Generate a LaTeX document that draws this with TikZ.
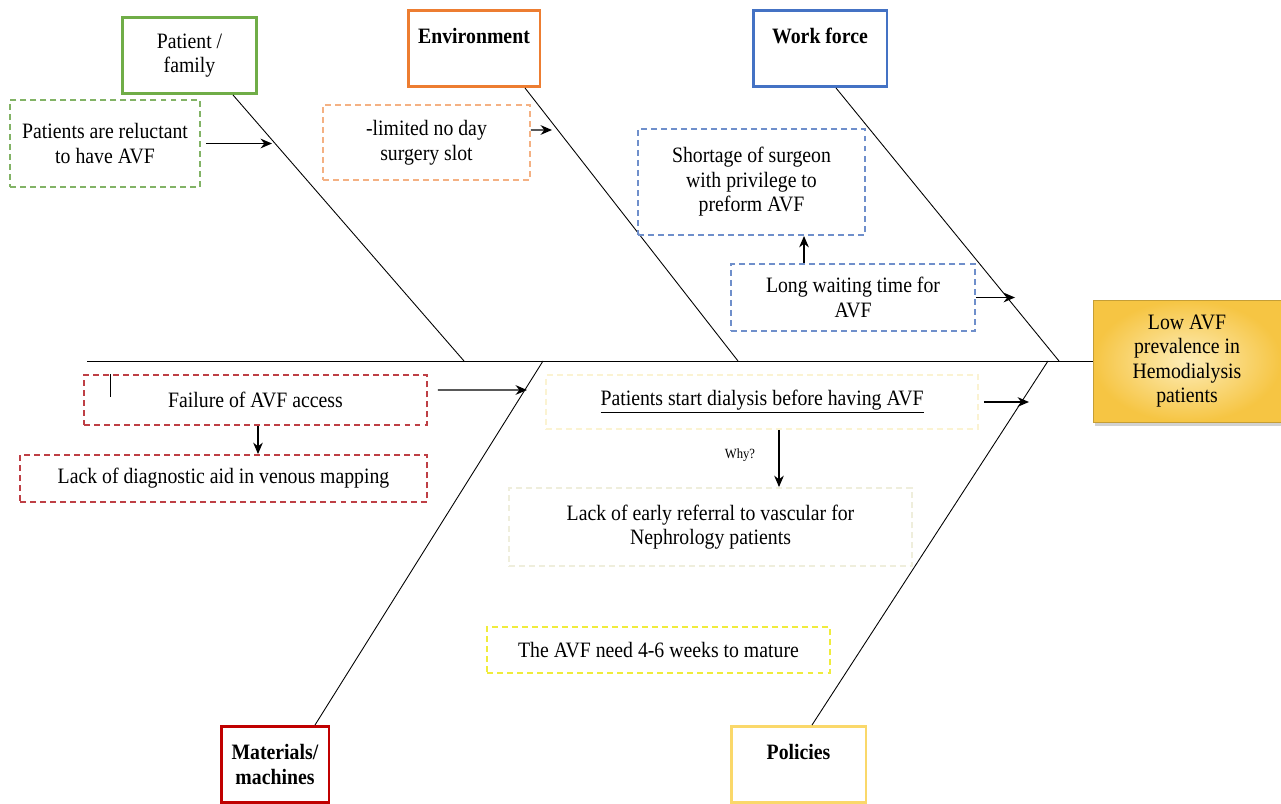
\documentclass[tikz,border=0pt]{standalone}
\usepackage{fontspec}
\setmainfont[FakeStretch=0.9]{Liberation Serif}
\usepackage{tikz}
\usetikzlibrary{arrows.meta,positioning,shadows}
\definecolor{pfgreen}{HTML}{70AD47}
\definecolor{envorange}{HTML}{ED7D31}
\definecolor{wfblue}{HTML}{4472C4}
\definecolor{matred}{HTML}{C00000}
\definecolor{polyellow}{HTML}{FAD86A}
\definecolor{lgreen}{HTML}{82B366}
\definecolor{lorange}{HTML}{F4B183}
\definecolor{lblue}{HTML}{6F8FCB}
\definecolor{lred}{HTML}{BE3F45}
\definecolor{faintyel}{HTML}{FBF3D2}
\definecolor{faintgray}{HTML}{EFEEDC}
\definecolor{brightyel}{HTML}{F0EC3C}
\definecolor{effpale}{HTML}{FDEDB8}
\definecolor{effgold}{HTML}{F6C543}

\begin{document}
\begin{tikzpicture}[x=0.02cm, y=-0.02cm,
    font=\fontsize{12.5}{14}\selectfont,
    head/.style={draw=#1, line width=1.7pt, align=center, minimum width=2.7cm, minimum height=1.52cm, inner sep=2pt},
    cause/.style={draw=#1, dash pattern=on 3.4pt off 2.3pt, line width=1.1pt, align=center, inner sep=2pt},
    bone/.style={line width=0.5pt},
    link/.style={->, line width=0.75pt},
    >={Stealth[length=6.5pt,width=5.5pt]}]
    \useasboundingbox (0,0) rectangle (1281,804);

    % problem and spine
    \node[draw=effgold!80!black, line width=0.4pt, inner color=effpale, outer color=effgold,
          drop shadow={shadow xshift=1pt, shadow yshift=-2pt, fill=black!35},
          align=center, minimum width=3.76cm, minimum height=2.44cm] (effect) at (1187,361)
          {Low AVF\\prevalence in\\Hemodialysis\\patients};
    \coordinate (tail) at (87,361);
    \draw[bone] (tail) -- (effect.west);

    % categories
    \node[head=pfgreen] (patient) at (189.5,55.5) {Patient /\\family};
    \node[head=envorange, minimum width=2.64cm] (env) at (474,48.5) {\textbf{Environment}\\~};
    \node[head=wfblue, minimum width=2.68cm] (work) at (820,48.5) {\textbf{Work force}\\~};
    \node[head=matred, minimum width=2.16cm] (mat) at (275,764.5) {\textbf{Materials/}\\\textbf{machines}};
    \node[head=polyellow] (pol) at (798.5,764.5) {\textbf{Policies}\\~};

    % bones
    \coordinate (pj) at (464,361);
    \coordinate (ej) at (738,361);
    \coordinate (wj) at (1059,361);
    \coordinate (mj) at (543,361);
    \coordinate (lj) at (1048,361);
    \draw[bone] ([xshift=0.87cm]patient.south) -- (pj);
    \draw[bone] ([xshift=1.02cm]env.south) -- (ej);
    \draw[bone] ([xshift=0.32cm]work.south) -- (wj);
    \draw[bone] ([xshift=0.8cm]mat.north) -- (mj);
    \draw[bone] ([xshift=0.27cm]pol.north) -- (lj);

    % causes
    \node[cause=lgreen, minimum width=3.8cm, minimum height=1.74cm] (reluct) at (105,143.5) {Patients are reluctant\\to have AVF};
    \node[cause=lorange, minimum width=4.14cm, minimum height=1.5cm] (slot) at (426.5,142.5) {-limited no day\\surgery slot};
    \node[cause=lblue, minimum width=4.54cm, minimum height=2.12cm] (short) at (751.5,182) {Shortage of surgeon\\with privilege to\\preform AVF};
    \node[cause=lblue, minimum width=4.88cm, minimum height=1.34cm] (wait) at (853,297.5) {Long waiting time for\\AVF};
    \node[cause=lred, minimum width=6.86cm, minimum height=1cm] (fail) at (255.5,400) {Failure of AVF access};
    \node[cause=lred, minimum width=8.14cm, minimum height=0.94cm] (diag) at (223.5,478.5) {Lack of diagnostic aid in venous mapping};
    \node[cause=faintyel, minimum width=8.64cm, minimum height=1.08cm] (start) at (762,402) {\underline{Patients start dialysis before having AVF}};
    \node[cause=faintgray, minimum width=8.06cm, minimum height=1.56cm] (early) at (710.5,527) {Lack of early referral to vascular for\\Nephrology patients};
    \node[cause=brightyel, minimum width=6.86cm, minimum height=0.92cm] (mature) at (658.5,650) {The AVF need 4-6 weeks to mature};
    \node[font=\fontsize{8}{9}\selectfont] (why) at (740,455) {Why?};

    % arrows
    \coordinate (reluct end) at (272,143.5);
    \coordinate (slot end) at (552,130);
    \coordinate (wait end) at (1015,297.5);
    \coordinate (fail end) at (527,390);
    \coordinate (start end) at (1029,402);
    \draw[link, shorten <=0.1cm] (reluct.east) -- (reluct end);
    \draw[link] ([yshift=0.25cm]slot.east) -- (slot end);
    \draw[link] (wait.east) -- (wait end);
    \draw[link, shorten <=0.2cm] ([yshift=0.2cm]fail.east) -- (fail end);
    \draw[link, shorten <=0.1cm] (start.east) -- (start end);
    \draw[link] ([xshift=-0.98cm]wait.north) -- ([xshift=-0.98cm]wait.north |- short.south);
    \draw[link] ([xshift=0.05cm]fail.south) -- ([xshift=0.05cm]fail.south |- diag.north);
    \draw[link] ([xshift=0.34cm]start.south) -- ([xshift=0.34cm]start.south |- early.north);
    \draw[line width=0.5pt] ([xshift=0.54cm]fail.north west) -- ++(0,23);
\end{tikzpicture}
\end{document}
